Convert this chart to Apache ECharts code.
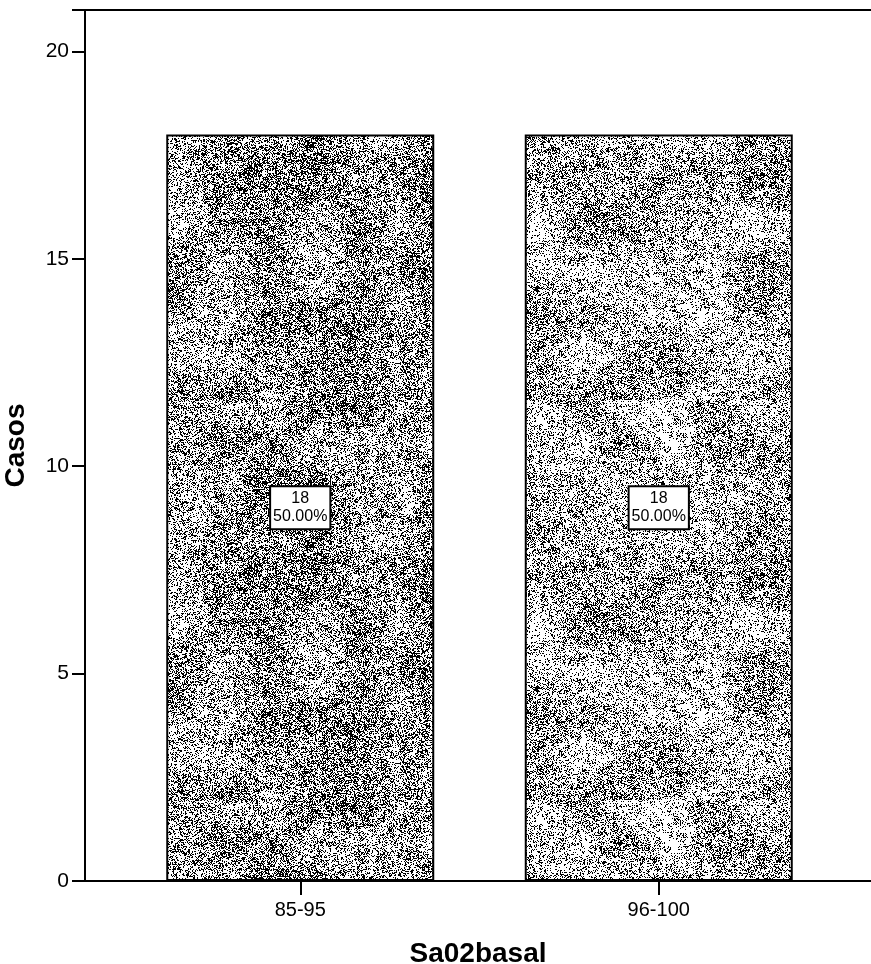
<!DOCTYPE html>
<html>
<head>
<meta charset="utf-8">
<script src="https://cdn.jsdelivr.net/npm/echarts@6/dist/echarts.min.js"></script>
<style>
  html, body { margin: 0; padding: 0; background: #fff; }
  #chart { width: 871px; height: 964px; }
</style>
</head>
<body>
<div id="chart"></div>
<script>
// Frequency of cases per SaO2 baseline range
const categories = ['85-95', '96-100'];
const counts = [18, 18];
const percents = ['50.00%', '50.00%'];
const yTicks = [0, 5, 10, 15, 20];

// Stippled fill texture built from a deterministic hash
function hash(x, y, s) {
  let h = (x * 374761393 + y * 668265263 + s * 1442695041) | 0;
  h = Math.imul(h ^ (h >>> 13), 1274126177);
  h = h ^ (h >>> 16);
  return (h >>> 0) / 4294967295;
}
function smoothNoise(x, y, cell, s) {
  const gx = Math.floor(x / cell), gy = Math.floor(y / cell);
  const fx = x / cell - gx, fy = y / cell - gy;
  const ux = fx * fx * (3 - 2 * fx), uy = fy * fy * (3 - 2 * fy);
  const a = hash(gx, gy, s), b = hash(gx + 1, gy, s);
  const c = hash(gx, gy + 1, s), d = hash(gx + 1, gy + 1, s);
  return (a * (1 - ux) + b * ux) * (1 - uy) + (c * (1 - ux) + d * ux) * uy;
}
function makeStipple(size, seed, base) {
  const cv = document.createElement('canvas');
  cv.width = size; cv.height = size;
  const ctx = cv.getContext('2d');
  const img = ctx.createImageData(size, size);
  for (let y = 0; y < size; y++) {
    for (let x = 0; x < size; x++) {
      const n = 0.55 * smoothNoise(x, y, 45, seed) + 0.45 * smoothNoise(x, y, 6, seed + 7);
      const p = base + (n - 0.5) * 0.6;
      const v = hash(x, y, seed + 3) < p ? 0 : 255;
      const i = (y * size + x) * 4;
      img.data[i] = img.data[i + 1] = img.data[i + 2] = v;
      img.data[i + 3] = 255;
    }
  }
  ctx.putImageData(img, 0, 0);
  return cv;
}
const textures = [makeStipple(400, 11, 0.40), makeStipple(400, 29, 0.32)];

const font = 'Arial, "Liberation Sans", sans-serif';
const yMin = 0, yMax = 21;

const chart = echarts.init(document.getElementById('chart'), null, { renderer: 'canvas' });
chart.setOption({
  animation: false,
  backgroundColor: '#ffffff',
  grid: [
    { left: 85, right: 0, top: 10, bottom: 83, containLabel: false, outerBoundsMode: 'none' },
    { left: 121, width: 717, top: 10, bottom: 83, containLabel: false, outerBoundsMode: 'none' }
  ],
  xAxis: [
    {
      gridIndex: 0, type: 'category', data: ['', ''], position: 'bottom',
      name: 'Sa02basal', nameLocation: 'middle', nameGap: 59,
      nameTextStyle: { fontFamily: font, fontWeight: 'bold', fontSize: 28, color: '#000' },
      axisLine: { show: true, lineStyle: { color: '#000', width: 2 } },
      axisTick: { show: false }, axisLabel: { show: false }, splitLine: { show: false }
    },
    {
      gridIndex: 0, type: 'category', data: ['', ''], position: 'top',
      axisLine: { show: true, lineStyle: { color: '#000', width: 2 } },
      axisTick: { show: false }, axisLabel: { show: false }, splitLine: { show: false }
    },
    {
      gridIndex: 1, type: 'category', data: categories, position: 'bottom',
      axisLine: { show: false },
      axisTick: { show: true, alignWithLabel: true, length: 14, lineStyle: { color: '#000', width: 2 } },
      axisLabel: { fontFamily: font, fontSize: 20, color: '#000', margin: 19 },
      splitLine: { show: false }
    }
  ],
  yAxis: [
    {
      gridIndex: 0, type: 'value', min: yMin, max: yMax, interval: 5,
      name: 'Casos', nameLocation: 'middle', nameGap: 55, nameRotate: 90,
      nameTextStyle: { fontFamily: font, fontWeight: 'bold', fontSize: 28, color: '#000' },
      axisLine: { show: true, lineStyle: { color: '#000', width: 2 } },
      axisTick: { show: true, length: 13, lineStyle: { color: '#000', width: 2 } },
      axisLabel: {
        fontFamily: font, fontSize: 21, color: '#000', margin: 16,
        formatter: v => (yTicks.indexOf(v) >= 0 ? String(v) : '')
      },
      splitLine: { show: false }
    },
    {
      gridIndex: 1, type: 'value', min: yMin, max: yMax, show: false
    }
  ],
  series: [{
    type: 'bar',
    xAxisIndex: 2, yAxisIndex: 1,
    barWidth: 268,
    data: counts.map((v, i) => ({
      value: v,
      itemStyle: {
        color: { image: textures[i], repeat: 'repeat' },
        borderColor: '#000', borderWidth: 2
      }
    })),
    label: {
      show: true, position: 'inside',
      formatter: p => p.value + '\n' + percents[p.dataIndex],
      fontFamily: font, fontSize: 16, color: '#000', lineHeight: 18,
      backgroundColor: '#fff', borderColor: '#000', borderWidth: 2,
      padding: [3, 2, 2, 2]
    }
  }]
});
</script>
</body>
</html>
